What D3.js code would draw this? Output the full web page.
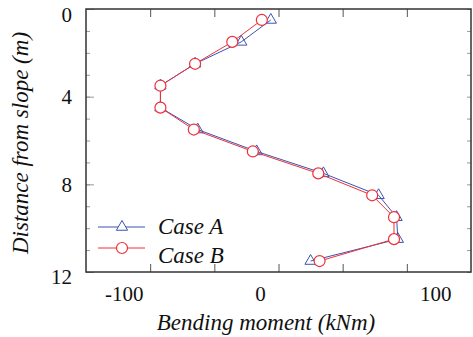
<!DOCTYPE html>
<html>
<head>
<meta charset="utf-8">
<script src="https://cdn.jsdelivr.net/npm/d3@7"></script>
</head>
<body style="margin:0">
<script>
// depth of each reading (m) and bending moment (kNm) for the two cases
const depth = [0.5, 1.5, 2.5, 3.5, 4.5, 5.5, 6.5, 7.5, 8.5, 9.5, 10.5, 11.5];
const caseA = [-6, -29, -65, -92, -92, -63, -17, 35, 78, 92, 93, 25];
const caseB = [-13, -36, -65, -92, -92, -66, -20, 31, 73, 90, 90, 32];
const seriesNames = ["Case A", "Case B"];
const xTicks = [-100, -50, 0, 50, 100];
const xTickLabels = [-100, 0, 100];
const yTicks = [0, 4, 8, 12];

const W = 473, H = 337;
const plotL = 86, plotR = 471, plotT = 9, plotB = 272;
const blue = "#3d53b3", red = "#ee3039";
const FONT = '"Liberation Serif"';

const svg = d3.select("body").append("svg")
    .attr("width", W)
    .attr("height", H);

const x = d3.scaleLinear().domain([-150, 150]).range([plotL, plotR]);
const y = d3.scaleLinear().domain([0, 12]).range([plotT, plotB]);

// ticks, all pointing into the plot
svg.append("g")
    .attr("transform", `translate(0,${plotB})`)
    .call(d3.axisBottom(x).tickValues(xTicks).tickSize(-8).tickFormat(""))
    .call(g => g.select(".domain").remove())
    .call(g => g.selectAll("line").attr("stroke", "#555"));
svg.append("g")
    .attr("transform", `translate(0,${plotT})`)
    .call(d3.axisTop(x).tickValues(xTicks).tickSize(-8).tickFormat(""))
    .call(g => g.select(".domain").remove())
    .call(g => g.selectAll("line").attr("stroke", "#555"));
svg.append("g")
    .attr("transform", `translate(${plotL},0)`)
    .call(d3.axisLeft(y).ticks(12).tickSize(-4).tickFormat(""))
    .call(g => g.select(".domain").remove())
    .call(g => g.selectAll("line").attr("stroke", "#999"));
svg.append("g")
    .attr("transform", `translate(${plotL},0)`)
    .call(d3.axisLeft(y).tickValues(yTicks).tickSize(-8).tickFormat(""))
    .call(g => g.select(".domain").remove())
    .call(g => g.selectAll("line").attr("stroke", "#999"));
svg.append("g")
    .attr("transform", `translate(${plotR},0)`)
    .call(d3.axisRight(y).ticks(12).tickSize(-4).tickFormat(""))
    .call(g => g.select(".domain").remove())
    .call(g => g.selectAll("line").attr("stroke", "#999"));

// tick labels (the original figure has them shifted off their ticks)
const xLabelShift = [-26, -18, 29];
svg.append("g").selectAll("text")
    .data(xTickLabels)
    .join("text")
    .attr("x", (d, i) => x(d) + xLabelShift[i])
    .attr("y", plotB + 29)
    .attr("text-anchor", "middle")
    .style("font-family", FONT)
    .attr("font-size", 21)
    .attr("fill", "#111")
    .text(d => d);

const yLabelShift = [6, 0, 1, 5];
svg.append("g").selectAll("text")
    .data(yTicks)
    .join("text")
    .attr("x", plotL - 14)
    .attr("y", (d, i) => y(d) + yLabelShift[i])
    .attr("dy", "0.34em")
    .attr("text-anchor", "end")
    .style("font-family", FONT)
    .attr("font-size", 21)
    .attr("fill", "#111")
    .text(d => d);

// frame
svg.append("rect")
    .attr("x", plotL).attr("y", plotT)
    .attr("width", plotR - plotL).attr("height", plotB - plotT)
    .attr("fill", "none")
    .attr("stroke", "#333")
    .attr("stroke-width", 1.5);

// axis titles
svg.append("text")
    .attr("x", 266)
    .attr("y", 330)
    .attr("text-anchor", "middle")
    .style("font-family", FONT)
    .attr("font-size", 23)
    .attr("font-style", "italic")
    .attr("fill", "#111")
    .text("Bending moment (kNm)");
svg.append("text")
    .attr("transform", `translate(28,143) rotate(-90)`)
    .attr("text-anchor", "middle")
    .style("font-family", FONT)
    .attr("font-size", 23)
    .attr("font-style", "italic")
    .attr("fill", "#111")
    .text("Distance from slope (m)");

const line = d3.line()
    .x(d => x(d[0]))
    .y(d => y(d[1]));
const ptsA = depth.map((d, i) => [caseA[i], d]);
const ptsB = depth.map((d, i) => [caseB[i], d]);
const tri = d3.symbol(d3.symbolTriangle).size(55);

// Case A
svg.append("path")
    .attr("d", line(ptsA))
    .attr("fill", "none")
    .attr("stroke", blue)
    .attr("stroke-width", 1);
svg.append("g").selectAll("path")
    .data(ptsA)
    .join("path")
    .attr("d", tri)
    .attr("transform", d => `translate(${x(d[0])},${y(d[1])})`)
    .attr("fill", "none")
    .attr("stroke", blue)
    .attr("stroke-width", 1);

// Case B
svg.append("path")
    .attr("d", line(ptsB))
    .attr("fill", "none")
    .attr("stroke", red)
    .attr("stroke-width", 1);
svg.append("g").selectAll("circle")
    .data(ptsB)
    .join("circle")
    .attr("cx", d => x(d[0]))
    .attr("cy", d => y(d[1]))
    .attr("r", 5.5)
    .attr("fill", "#fff")
    .attr("stroke", red)
    .attr("stroke-width", 1.2);

// legend
const legend = svg.append("g").selectAll("g")
    .data(seriesNames)
    .join("g")
    .attr("transform", (d, i) => `translate(98,${227 + i * 21})`);
legend.append("line")
    .attr("x1", 0).attr("x2", 47)
    .attr("stroke", (d, i) => i ? red : blue)
    .attr("stroke-width", 1);
legend.filter((d, i) => i === 0).append("path")
    .attr("d", tri)
    .attr("transform", "translate(24,0)")
    .attr("fill", "#fff")
    .attr("stroke", blue);
legend.filter((d, i) => i === 1).append("circle")
    .attr("cx", 24)
    .attr("r", 5.5)
    .attr("fill", "#fff")
    .attr("stroke", red)
    .attr("stroke-width", 1.2);
legend.append("text")
    .attr("x", 60)
    .attr("y", (d, i) => 7 + i * 8)
    .style("font-family", FONT)
    .attr("font-size", 23)
    .attr("font-style", "italic")
    .attr("fill", "#111")
    .text(d => d);
</script>
</body>
</html>
